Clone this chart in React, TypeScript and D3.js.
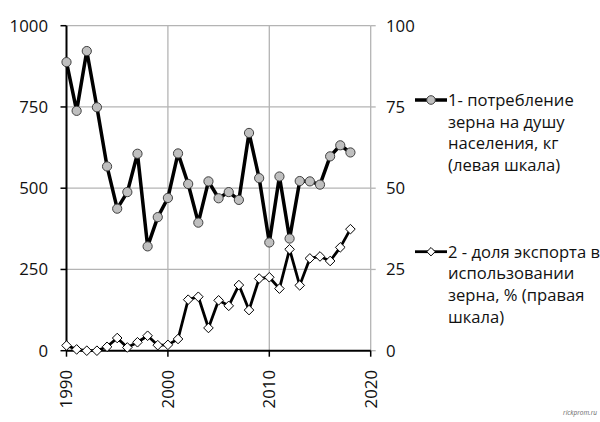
import React from "react";
import * as d3 from "d3";

const years: number[] = d3.range(1990, 2019);
const consumption: number[] = [
  888, 738, 922, 749, 567, 437, 488, 606, 321, 411,
  470, 607, 513, 394, 521, 469, 488, 464, 670, 531,
  333, 536, 345, 522, 521, 511, 598, 632, 610,
];
const exportShare: number[] = [
  1.6, 0.4, 0, 0, 1.2, 3.9, 1.0, 2.6, 4.6, 1.7,
  1.8, 3.6, 15.7, 16.6, 7.0, 15.5, 13.8, 20.2, 12.5, 22.2,
  22.6, 19.1, 31.2, 20.1, 28.4, 29.0, 27.6, 31.8, 37.4,
];
const leftTicks: number[] = [0, 250, 500, 750, 1000];
const rightTicks: number[] = [0, 25, 50, 75, 100];
const xTicks: number[] = [1990, 2000, 2010, 2020];
const legend1: string[] = ["1- потребление", "зерна на душу", "населения, кг", "(левая шкала)"];
const legend2: string[] = ["2 - доля экспорта в", "использовании", "зерна, % (правая", "шкала)"];

const FONT = "'Open Sans', 'DejaVu Sans', sans-serif";

export default function App() {
  const W = 600, H = 422;
  const x = d3.scaleLinear().domain([1990, 2020]).range([66.5, 370.7]);
  const yL = d3.scaleLinear().domain([0, 1000]).range([350.7, 25.7]);
  const yR = d3.scaleLinear().domain([0, 100]).range([350.7, 25.7]);

  const line1 = d3.line<number>().x((_, i) => x(years[i])).y((d) => yL(d))(consumption) || "";
  const line2 = d3.line<number>().x((_, i) => x(years[i])).y((d) => yR(d))(exportShare) || "";
  const diamond = (cx: number, cy: number, s = 4.8) =>
    `M${cx},${cy - s}L${cx + s},${cy}L${cx},${cy + s}L${cx - s},${cy}Z`;

  const grid = "#b4b4b4";
  const txt = "#111";
  return (
    <svg width={W} height={H} style={{ position: "absolute", left: 0, top: 0, background: "#fff" }}
      fontFamily={FONT}>
      {leftTicks.filter((t) => t > 0).map((t) => (
        <line key={"h" + t} x1={x(1990)} x2={x(2020)} y1={yL(t)} y2={yL(t)} stroke={grid} strokeWidth={1.3} />
      ))}
      {xTicks.filter((t) => t > 1990).map((t) => (
        <line key={"v" + t} x1={x(t)} x2={x(t)} y1={yL(1000)} y2={yL(0)} stroke={grid} strokeWidth={1.3} />
      ))}
      {rightTicks.map((t) => (
        <line key={"rt" + t} x1={x(2020)} x2={x(2020) + 5} y1={yR(t)} y2={yR(t)} stroke={grid} strokeWidth={1.3} />
      ))}
      <line x1={x(1990)} x2={x(1990)} y1={yL(1000)} y2={yL(0)} stroke="#000" strokeWidth={2} />
      {leftTicks.map((t) => (
        <line key={"lt" + t} x1={x(1990) - 6} x2={x(1990)} y1={yL(t)} y2={yL(t)} stroke="#000" strokeWidth={1.5} />
      ))}
      <line x1={x(1990)} x2={x(2020)} y1={yL(0)} y2={yL(0)} stroke="#000" strokeWidth={2} />
      {xTicks.map((t) => (
        <line key={"bt" + t} x1={x(t)} x2={x(t)} y1={yL(0)} y2={yL(0) + 6} stroke="#000" strokeWidth={1.5} />
      ))}
      {leftTicks.map((t) => (
        <text key={"ll" + t} x={48} y={yL(t)} dy="0.35em" textAnchor="end" fontSize={16.8} fill={txt}>{t}</text>
      ))}
      {rightTicks.map((t) => (
        <text key={"rl" + t} x={386} y={yR(t)} dy="0.35em" textAnchor="start" fontSize={16.8} fill={txt}>{t}</text>
      ))}
      {xTicks.map((t) => (
        <text key={"xl" + t} transform={`translate(${x(t)},${370}) rotate(-90)`} dy="0.35em" textAnchor="end"
          fontSize={16.8} fill={txt}>{t}</text>
      ))}
      <path d={line1} fill="none" stroke="#000" strokeWidth={3.5} strokeLinejoin="round" />
      {consumption.map((v, i) => (
        <circle key={"c" + i} cx={x(years[i])} cy={yL(v)} r={4.6} fill="#bfbfbf" stroke="#404040" strokeWidth={1} />
      ))}
      <path d={line2} fill="none" stroke="#000" strokeWidth={2.8} strokeLinejoin="round" />
      {exportShare.map((v, i) => (
        <path key={"d" + i} d={diamond(x(years[i]), yR(v))} fill="#fff" stroke="#000" strokeWidth={1} />
      ))}
      <line x1={415} x2={447} y1={100} y2={100} stroke="#000" strokeWidth={3.5} />
      <circle cx={431} cy={100} r={4.3} fill="#bfbfbf" stroke="#404040" strokeWidth={1} />
      {legend1.map((s, i) => (
        <text key={"l1" + i} x={448} y={100 + i * 21.7} dy="0.35em" fontSize={16.6} fill={txt}>{s}</text>
      ))}
      <line x1={415} x2={447} y1={251.7} y2={251.7} stroke="#000" strokeWidth={2.8} />
      <path d={diamond(431, 251.7, 4.2)} fill="#fff" stroke="#000" strokeWidth={1} />
      {legend2.map((s, i) => (
        <text key={"l2" + i} x={448} y={251.7 + i * 21.7} dy="0.35em" fontSize={16.6} fill={txt}>{s}</text>
      ))}
      <text x={597} y={415} textAnchor="end" fontSize={6.5} fill="#666" fontStyle="italic">rickprom.ru</text>
    </svg>
  );
}
